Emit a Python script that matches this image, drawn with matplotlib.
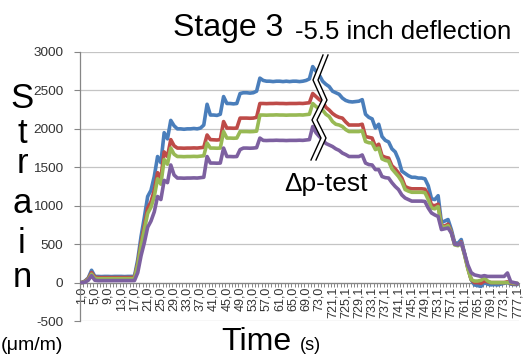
import matplotlib
matplotlib.use("Agg")
import matplotlib.pyplot as plt
import numpy as np
from matplotlib.patches import Polygon
from matplotlib.lines import Line2D

plt.rcParams['font.family'] = ['Liberation Sans', 'DejaVu Sans']
plt.rcParams['axes.unicode_minus'] = False

tick_labels = ["1,0", "5,0", "9,0", "13,0", "17,0", "21,0", "25,0", "29,0", "33,0", "37,0",
               "41,0", "45,0", "49,0", "53,0", "57,0", "61,0", "65,0", "69,0", "73,0",
               "721,1", "725,1", "729,1", "733,1", "737,1", "741,1", "745,1", "749,1",
               "753,1", "757,1", "761,1", "765,1", "769,1", "773,1", "777,1"]
n_categories = 133

blue = [0, 20, 60, 160, 80,
        80, 78, 80, 80, 78, 80, 80, 80, 78, 80, 80, 82,
        300, 600, 850, 1120, 1200, 1380, 1640, 1560, 1950, 1870, 2110, 2040,
        2000, 2000, 1995, 2000, 2000, 2005, 2000, 2010,
        2050, 2320, 2180, 2180, 2175, 2190,
        2420, 2330, 2330, 2325, 2330,
        2460, 2470, 2470, 2465, 2470, 2490,
        2660, 2630, 2620, 2620, 2615, 2620, 2620, 2615, 2620, 2615, 2620, 2620, 2615, 2620, 2630, 2650,
        2810, 2750, 2700, 2620, 2580, 2550, 2490, 2470, 2450, 2400, 2370, 2355, 2350, 2355, 2360, 2380,
        2190, 2150, 2130, 2010, 2060, 1900, 1850, 1830, 1740, 1700, 1600, 1450, 1420, 1390, 1370, 1370, 1360, 1360, 1350,
        1260, 1090, 1080, 1130, 780, 800, 820, 690, 520, 510, 560, 380, 200, 40, -30, -40, -50, 0, -20, -30, -25, -30, -20, -10, 0, -20, -25, -25]

red = [0, 15, 50, 130, 70,
       65, 65, 64, 65, 65, 66, 65, 65, 64, 65, 65, 66,
       250, 520, 740, 970, 1050, 1200, 1430, 1360, 1700, 1640, 1860, 1780,
       1750, 1750, 1748, 1750, 1750, 1752, 1750, 1755,
       1760, 1920, 1860, 1857, 1855, 1860,
       2095, 2010, 2010, 2008, 2010,
       2140, 2140, 2140, 2138, 2140, 2150,
       2330, 2330, 2328, 2330, 2330, 2332, 2330, 2330, 2328, 2330, 2330, 2330, 2332, 2330, 2335, 2340,
       2460, 2420, 2380, 2355, 2280, 2245, 2200, 2170, 2150, 2140, 2090, 2050, 2050, 2050, 2050, 2060,
       1900, 1890, 1880, 1770, 1800, 1650, 1630, 1620, 1520, 1480, 1425, 1360, 1250, 1230, 1220, 1220, 1220, 1220, 1215,
       1140, 1010, 1000, 1020, 740, 735, 760, 660, 500, 490, 530, 370, 190, 40, 0, 0, -10, 20, 10, 0, 0, 0, 0, 0, 10, -10, -15, -15]

green = [0, 10, 40, 110, 55,
         50, 50, 49, 50, 50, 51, 50, 50, 49, 50, 50, 51,
         230, 480, 690, 900, 980, 1120, 1350, 1280, 1600, 1540, 1750, 1670,
         1640, 1640, 1638, 1640, 1640, 1642, 1640, 1645,
         1650, 1815, 1750, 1750, 1748, 1750,
         1965, 1880, 1880, 1878, 1880,
         1965, 1965, 1965, 1963, 1965, 1970,
         2180, 2180, 2178, 2180, 2180, 2182, 2180, 2180, 2178, 2180, 2180, 2180, 2182, 2180, 2185, 2190,
         2330, 2290, 2260, 2245, 2190, 2160, 2095, 2060, 2050, 2030, 1990, 1965, 1965, 1965, 1965, 1975,
         1835, 1820, 1815, 1730, 1750, 1610, 1590, 1580, 1480, 1430, 1380, 1315, 1210, 1190, 1175, 1175, 1175, 1175, 1170,
         1080, 970, 960, 990, 730, 720, 740, 650, 490, 480, 520, 360, 180, 40, 20, 20, 30, 60, 20, 0, 0, 0, 0, 0, 0, 0, -10, -10]

purple = [0, 5, 30, 90, 30,
          25, 25, 24, 25, 25, 26, 25, 25, 24, 25, 25, 26,
          130, 350, 520, 720, 800, 920, 1120, 1080, 1330, 1300, 1530, 1400,
          1360, 1360, 1358, 1360, 1360, 1362, 1360, 1365,
          1370, 1640, 1555, 1555, 1553, 1555,
          1750, 1640, 1640, 1638, 1640,
          1730, 1750, 1750, 1748, 1750, 1755,
          1880, 1850, 1848, 1850, 1850, 1852, 1850, 1850, 1848, 1850, 1850, 1850, 1852, 1850, 1855, 1860,
          2030, 1950, 1900, 1857, 1810, 1790, 1770, 1740, 1720, 1685, 1665, 1640, 1640, 1640, 1640, 1660,
          1555, 1535, 1530, 1470, 1470, 1380, 1365, 1360, 1300, 1250, 1210, 1140, 1100, 1080, 1060, 1060, 1060, 1060, 1055,
          970, 905, 880, 860, 690, 700, 710, 645, 500, 490, 520, 380, 230, 130, 100, 90, 80, 90, 80, 80, 80, 80, 80, 80, 125, 10, 0, -10]

series = [blue, red, green, purple]
colors = ['#4A7EBB', '#BE4B48', '#98B954', '#7D60A0']

W, H = 526, 358
fig = plt.figure(figsize=(W / 100, H / 100), dpi=100)

def fx(x):
    return x / W

def fy(y):
    return 1 - y / H

ax_l, ax_r, ax_t, ax_b = 80, 519, 52, 321
ax = fig.add_axes([fx(ax_l), fy(ax_b), (ax_r - ax_l) / W, (ax_b - ax_t) / H])

x = np.arange(n_categories)
for s, c in zip(series, colors):
    ax.plot(x, s, color=c, lw=2.6, solid_joinstyle='round', solid_capstyle='round', zorder=3)

ax.set_xlim(-0.5, n_categories - 0.5)
ax.set_ylim(-500, 3000)
ax.set_yticks(np.arange(-500, 3001, 500))
ax.yaxis.grid(True, color='#C4C4C4', lw=0.9)
ax.set_axisbelow(True)

for sp in ['top', 'right']:
    ax.spines[sp].set_visible(False)
ax.spines['left'].set_color('#868686')
ax.spines['bottom'].set_color('#868686')
ax.spines['bottom'].set_position(('data', 0))
ax.spines['left'].set_linewidth(0.9)
ax.spines['bottom'].set_linewidth(0.9)

label_pos = list(range(0, 73, 4)) + list(range(76, 133, 4))
ax.set_xticks(label_pos)
ax.set_xticklabels(tick_labels, rotation=90, fontsize=9, color='#333333')
ax.set_xticks(np.arange(-0.5, n_categories, 1), minor=True)
ax.tick_params(axis='x', which='major', length=0, pad=3)
ax.tick_params(axis='x', which='minor', length=3, color='#868686', width=0.7)
ax.tick_params(axis='y', length=4, color='#868686', width=0.8, labelsize=9.7,
               labelcolor='#333333', pad=8)

# break marks
left_line = [(323, 55), (313, 80), (322, 100), (312, 120), (321, 138), (311, 160)]
right_line = [(px + 5, py) for px, py in left_line]
poly = [(fx(a), fy(b)) for a, b in left_line] + [(fx(a), fy(b)) for a, b in right_line[::-1]]
fig.patches.append(Polygon(poly, closed=True, transform=fig.transFigure,
                           facecolor='white', edgecolor='none', zorder=5))
for ln in (left_line, right_line):
    fig.lines.append(Line2D([fx(a) for a, b in ln], [fy(b) for a, b in ln],
                            transform=fig.transFigure, color='black', lw=1.0, zorder=6))

# texts
fig.text(fx(228), fy(36), "Stage 3", fontsize=23, ha='center', va='baseline')
fig.text(fx(295), fy(39), "-5.5 inch deflection", fontsize=18.5, ha='left', va='baseline')
fig.text(fx(284), fy(191), "Δp-test", fontsize=19, ha='left', va='baseline')

for ch, yb in zip("Strain", [108, 143, 173, 213, 253, 287]):
    fig.text(fx(22), fy(yb), ch, fontsize=25, ha='center', va='baseline')

fig.text(fx(1), fy(350), "(μm/m)", fontsize=14, ha='left', va='baseline')
fig.text(fx(221), fy(350), "Time", fontsize=23, ha='left', va='baseline')
fig.text(fx(300), fy(350), "(s)", fontsize=13, ha='left', va='baseline')

fig.savefig("out.png", dpi=100)
